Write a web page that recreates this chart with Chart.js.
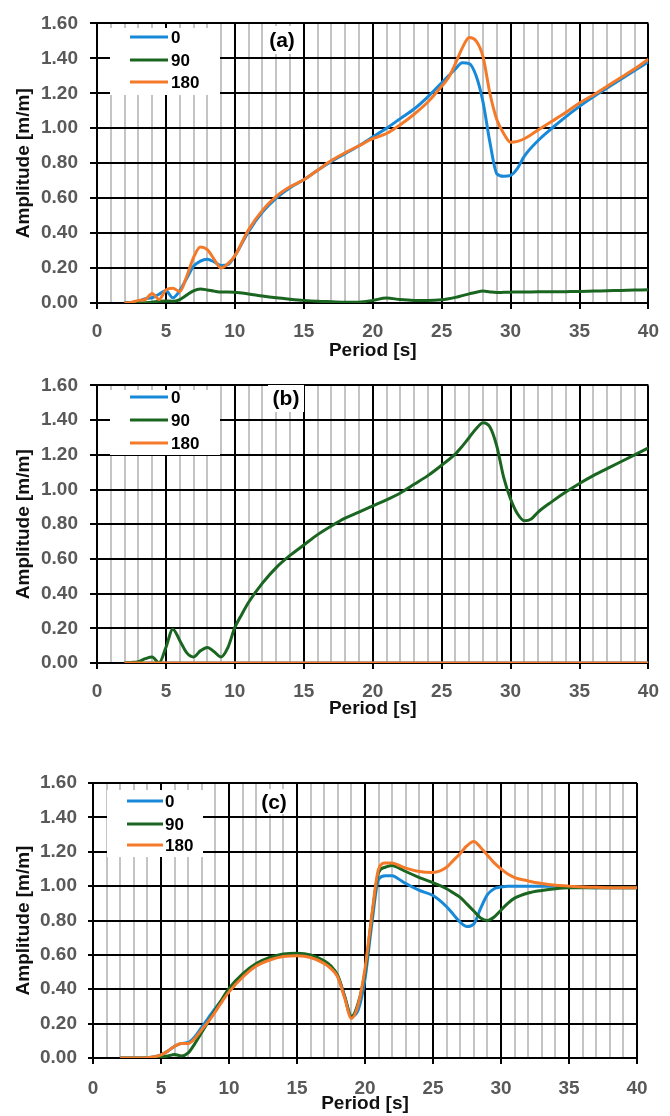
<!DOCTYPE html>
<html>
<head>
<meta charset="utf-8">
<script src="https://cdn.jsdelivr.net/npm/chart.js@4.4.1/dist/chart.umd.min.js"></script>
<style>
  html, body { margin: 0; padding: 0; background: #fff; }
  body { width: 670px; height: 1116px; position: relative; overflow: hidden; }
  canvas { position: absolute; left: 0; }
</style>
</head>
<body>
<canvas id="ca" width="670" height="362" style="top:0px"></canvas>
<canvas id="cb" width="670" height="358" style="top:362px"></canvas>
<canvas id="cc" width="670" height="396" style="top:720px"></canvas>
<script>
// tick labels
const yTicks = [0, 0.2, 0.4, 0.6, 0.8, 1.0, 1.2, 1.4, 1.6];
const xMajor = [0, 5, 10, 15, 20, 25, 30, 35, 40];
const seriesNames = ['0', '90', '180'];
const seriesColors = ['#1789d8', '#1a6620', '#f47a2a'];

// panel (a)
const periodA = [2, 2.5, 3, 3.5, 4, 4.5, 5, 5.5, 6, 6.5, 7, 7.5, 8, 8.5, 9, 9.5, 10,
  11, 12, 13, 14, 15, 16, 17, 18, 19, 20, 21, 22, 23, 24, 25,
  25.5, 26, 26.5, 27, 27.5, 28, 28.5, 29, 29.5, 30, 30.5, 31,
  32, 33, 34, 35, 36, 37, 38, 39, 40];
const a0 = [0, 0.002, 0.01, 0.025, 0.03, 0.05, 0.07, 0.03, 0.07, 0.14, 0.21, 0.24, 0.25, 0.235, 0.215, 0.22, 0.27,
  0.41, 0.52, 0.6, 0.66, 0.705, 0.76, 0.81, 0.855, 0.9, 0.95, 1.0, 1.055, 1.11, 1.18, 1.26,
  1.3, 1.34, 1.375, 1.37, 1.3, 1.15, 0.92, 0.74, 0.725, 0.73, 0.77, 0.84,
  0.93, 1.0, 1.065, 1.125, 1.18, 1.23, 1.28, 1.33, 1.38];
const a90 = [0, 0, 0, 0.002, 0.005, 0.01, 0.012, 0.01, 0.02, 0.045, 0.07, 0.08, 0.075, 0.068, 0.063, 0.063, 0.062,
  0.052, 0.04, 0.03, 0.022, 0.015, 0.01, 0.007, 0.004, 0.005, 0.015, 0.028, 0.02, 0.015, 0.014, 0.018,
  0.024, 0.032, 0.042, 0.052, 0.062, 0.068, 0.063, 0.06, 0.061, 0.062, 0.063, 0.063,
  0.064, 0.064, 0.065, 0.066, 0.068, 0.07, 0.072, 0.074, 0.076];
const a180 = [0, 0.003, 0.015, 0.02, 0.055, 0.02, 0.075, 0.085, 0.065, 0.15, 0.26, 0.32, 0.305, 0.25, 0.2, 0.225, 0.27,
  0.42, 0.53, 0.61, 0.665, 0.705, 0.76, 0.815, 0.86, 0.9, 0.94, 0.97, 1.02, 1.08, 1.15, 1.24,
  1.29, 1.37, 1.46, 1.52, 1.5, 1.41, 1.2, 1.05, 0.97, 0.92, 0.925, 0.94,
  0.99, 1.04, 1.09, 1.145, 1.19, 1.24, 1.29, 1.34, 1.395];

// panel (b)
const periodB = [2, 2.5, 3, 3.5, 4, 4.5, 5, 5.5, 6, 6.5, 7, 7.5, 8, 8.5, 9, 9.5, 10, 10.5, 11,
  12, 13, 14, 15, 16, 17, 18, 19, 20, 21, 22, 23, 24, 25, 26,
  26.5, 27, 27.5, 28, 28.5, 29, 29.5, 30, 30.5, 31, 31.5, 32,
  33, 34, 35, 36, 37, 38, 39, 40];
const b90 = [0, 0.003, 0.008, 0.025, 0.035, 0, 0.09, 0.195, 0.13, 0.06, 0.035, 0.07, 0.09, 0.065, 0.035, 0.09, 0.205, 0.28, 0.35,
  0.46, 0.55, 0.62, 0.68, 0.74, 0.79, 0.835, 0.87, 0.905, 0.94, 0.98, 1.03, 1.08, 1.14, 1.205,
  1.25, 1.3, 1.35, 1.385, 1.36, 1.25, 1.07, 0.945, 0.86, 0.82, 0.83, 0.87,
  0.93, 0.985, 1.035, 1.08, 1.12, 1.16, 1.2, 1.24];
const periodBflat = [2, 40];
const b0 = [0, 0];
const b180 = [0, 0];

// panel (c)
const periodC = [2, 3, 4, 4.5, 5, 5.5, 6, 6.5, 7, 7.5, 8, 8.5, 9, 9.5, 10,
  11, 12, 13, 14, 15, 16, 17, 17.5, 18, 18.5, 19, 19.5, 20, 20.5, 21, 21.5, 22, 22.5, 23,
  24, 25, 26, 26.5, 27, 27.5, 28, 28.5, 29, 29.5, 30, 30.5, 31,
  32, 33, 34, 35, 36, 37, 38, 39, 40];
const c0 = [0, 0, 0.002, 0.007, 0.018, 0.04, 0.068, 0.085, 0.09, 0.125, 0.18, 0.235, 0.29, 0.34, 0.39,
  0.475, 0.54, 0.575, 0.598, 0.605, 0.595, 0.56, 0.53, 0.475, 0.36, 0.245, 0.28, 0.46, 0.78, 1.04, 1.06, 1.06, 1.04, 1.015,
  0.975, 0.945, 0.88, 0.835, 0.79, 0.765, 0.78, 0.87, 0.95, 0.985, 0.995, 1.0, 1.0,
  1.0, 1.0, 1.0, 0.995, 0.993, 0.99, 0.99, 0.99, 0.99];
const c90 = [0, 0, 0, 0.002, 0.005, 0.012, 0.02, 0.012, 0.03, 0.085, 0.15, 0.215, 0.28, 0.345, 0.405,
  0.49, 0.55, 0.585, 0.605, 0.61, 0.6, 0.565, 0.535, 0.48, 0.36, 0.24, 0.32, 0.5, 0.82, 1.08, 1.11, 1.12, 1.105, 1.085,
  1.05, 1.02, 0.985, 0.96, 0.935, 0.895, 0.855, 0.815, 0.8, 0.82, 0.86, 0.9, 0.93,
  0.96, 0.975, 0.985, 0.99, 0.99, 0.99, 0.99, 0.99, 0.99];
const c180 = [0, 0, 0.002, 0.007, 0.018, 0.04, 0.068, 0.085, 0.085, 0.115, 0.165, 0.215, 0.27, 0.33, 0.385,
  0.47, 0.535, 0.57, 0.59, 0.595, 0.585, 0.55, 0.52, 0.47, 0.35, 0.23, 0.31, 0.52, 0.83, 1.1, 1.135, 1.135, 1.12, 1.105,
  1.085, 1.08, 1.11, 1.15, 1.19, 1.235, 1.26, 1.225, 1.18, 1.135, 1.1, 1.07, 1.05,
  1.03, 1.015, 1.005, 1.0, 0.995, 0.993, 0.99, 0.99, 0.99];

const FONT = '"Liberation Sans", Arial, sans-serif';

function pts(xs, ys) {
  return xs.map((x, i) => ({ x: x, y: ys[i] }));
}

function line(i, xs, ys) {
  return {
    label: seriesNames[i],
    data: pts(xs, ys),
    borderColor: seriesColors[i],
    borderWidth: 3,
    pointRadius: 0,
    cubicInterpolationMode: 'monotone',
    order: 3 - i
  };
}

// white legend box and panel tag, drawn on top of the grid
const overlay = {
  id: 'overlay',
  afterDraw(chart, args, o) {
    const c = chart.ctx;
    c.save();
    c.fillStyle = '#fff';
    c.fillRect(o.box[0], o.box[1], o.box[2], o.box[3]);
    c.fillRect(o.tagBox[0], o.tagBox[1], o.tagBox[2], o.tagBox[3]);
    c.font = 'bold 17px ' + FONT;
    c.textBaseline = 'middle';
    c.textAlign = 'left';
    chart.data.datasets.forEach((ds, i) => {
      const y = o.rows[i];
      c.strokeStyle = ds.borderColor;
      c.lineWidth = 3;
      c.beginPath();
      c.moveTo(o.lineX[0], y);
      c.lineTo(o.lineX[1], y);
      c.stroke();
      c.fillStyle = '#000';
      c.fillText(ds.label, o.textX, y + 1);
    });
    c.font = 'bold 21px ' + FONT;
    c.textAlign = 'center';
    c.fillText(o.tag, o.tagX, o.tagY);
    c.restore();
  }
};

function makeChart(id, datasets, L) {
  new Chart(document.getElementById(id), {
    type: 'line',
    data: { datasets: datasets },
    plugins: [overlay],
    options: {
      responsive: false,
      animation: false,
      devicePixelRatio: 1,
      layout: { padding: { top: L.top, right: L.right, left: 0, bottom: 0 } },
      plugins: {
        legend: { display: false },
        tooltip: { enabled: false },
        overlay: L.overlay
      },
      scales: {
        x: {
          type: 'linear',
          min: 0, max: 40,
          afterFit: s => { s.height = L.xh; },
          afterBuildTicks: s => { s.ticks = Array.from({ length: 41 }, (_, k) => ({ value: k })); },
          grid: {
            color: c => xMajor.includes(c.tick.value) ? '#000' : '#c4c4c4',
            tickColor: c => xMajor.includes(c.tick.value) ? '#000' : 'rgba(0,0,0,0)',
            lineWidth: 2,
            tickLength: 6
          },
          border: { color: '#000', width: 2 },
          ticks: {
            autoSkip: false, maxRotation: 0,
            padding: L.xpad,
            color: '#595959',
            font: { family: FONT, weight: 'bold', size: 19 },
            callback: v => xMajor.includes(v) ? String(v) : ''
          },
          title: {
            display: true, text: 'Period [s]', color: '#111',
            font: { family: FONT, weight: 'bold', size: 19 },
            padding: { top: 0, bottom: L.tpad }
          }
        },
        y: {
          min: 0, max: 1.6,
          afterFit: s => { s.width = L.yw; },
          afterBuildTicks: s => { s.ticks = yTicks.map(v => ({ value: v })); },
          grid: { color: '#000', tickColor: '#000', lineWidth: 2, tickLength: L.ytl },
          border: { color: '#000', width: 2 },
          ticks: {
            padding: L.ypad,
            color: '#595959',
            font: { family: FONT, weight: 'bold', size: 19 },
            callback: v => Number(v).toFixed(2)
          },
          title: {
            display: true, text: 'Amplitude [m/m]', color: '#111',
            font: { family: FONT, weight: 'bold', size: 19 },
            padding: { top: 12, bottom: 0 }
          }
        }
      }
    }
  });
}

makeChart('ca', [line(0, periodA, a0), line(1, periodA, a90), line(2, periodA, a180)], {
  top: 17, right: 12, xh: 59, yw: 97, tpad: 0, xpad: 11, ytl: 7, ypad: 12,
  overlay: { box: [110, 28, 110, 67], rows: [37, 60, 82], lineX: [130, 168], textX: 171,
    tagBox: [263, 26, 39, 28], tag: '(a)', tagX: 282, tagY: 41 }
});

makeChart('cb', [line(0, periodBflat, b0), line(1, periodB, b90), line(2, periodBflat, b180)], {
  top: 16, right: 12, xh: 57, yw: 97, tpad: 0, xpad: 11, ytl: 7, ypad: 12,
  overlay: { box: [110, 28, 110, 65], rows: [35, 58, 81], lineX: [130, 168], textX: 171,
    tagBox: [268, 23, 36, 27], tag: '(b)', tagX: 286, tagY: 37 }
});

makeChart('cc', [line(0, periodC, c0), line(1, periodC, c90), line(2, periodC, c180)], {
  top: 63, right: 33, xh: 58, yw: 93, tpad: 1, xpad: 13, ytl: 5, ypad: 11,
  overlay: { box: [107, 70, 96, 67], rows: [81, 104, 125], lineX: [127, 163], textX: 165,
    tagBox: [257, 69, 34, 25], tag: '(c)', tagX: 274, tagY: 83 }
});
</script>
</body>
</html>
